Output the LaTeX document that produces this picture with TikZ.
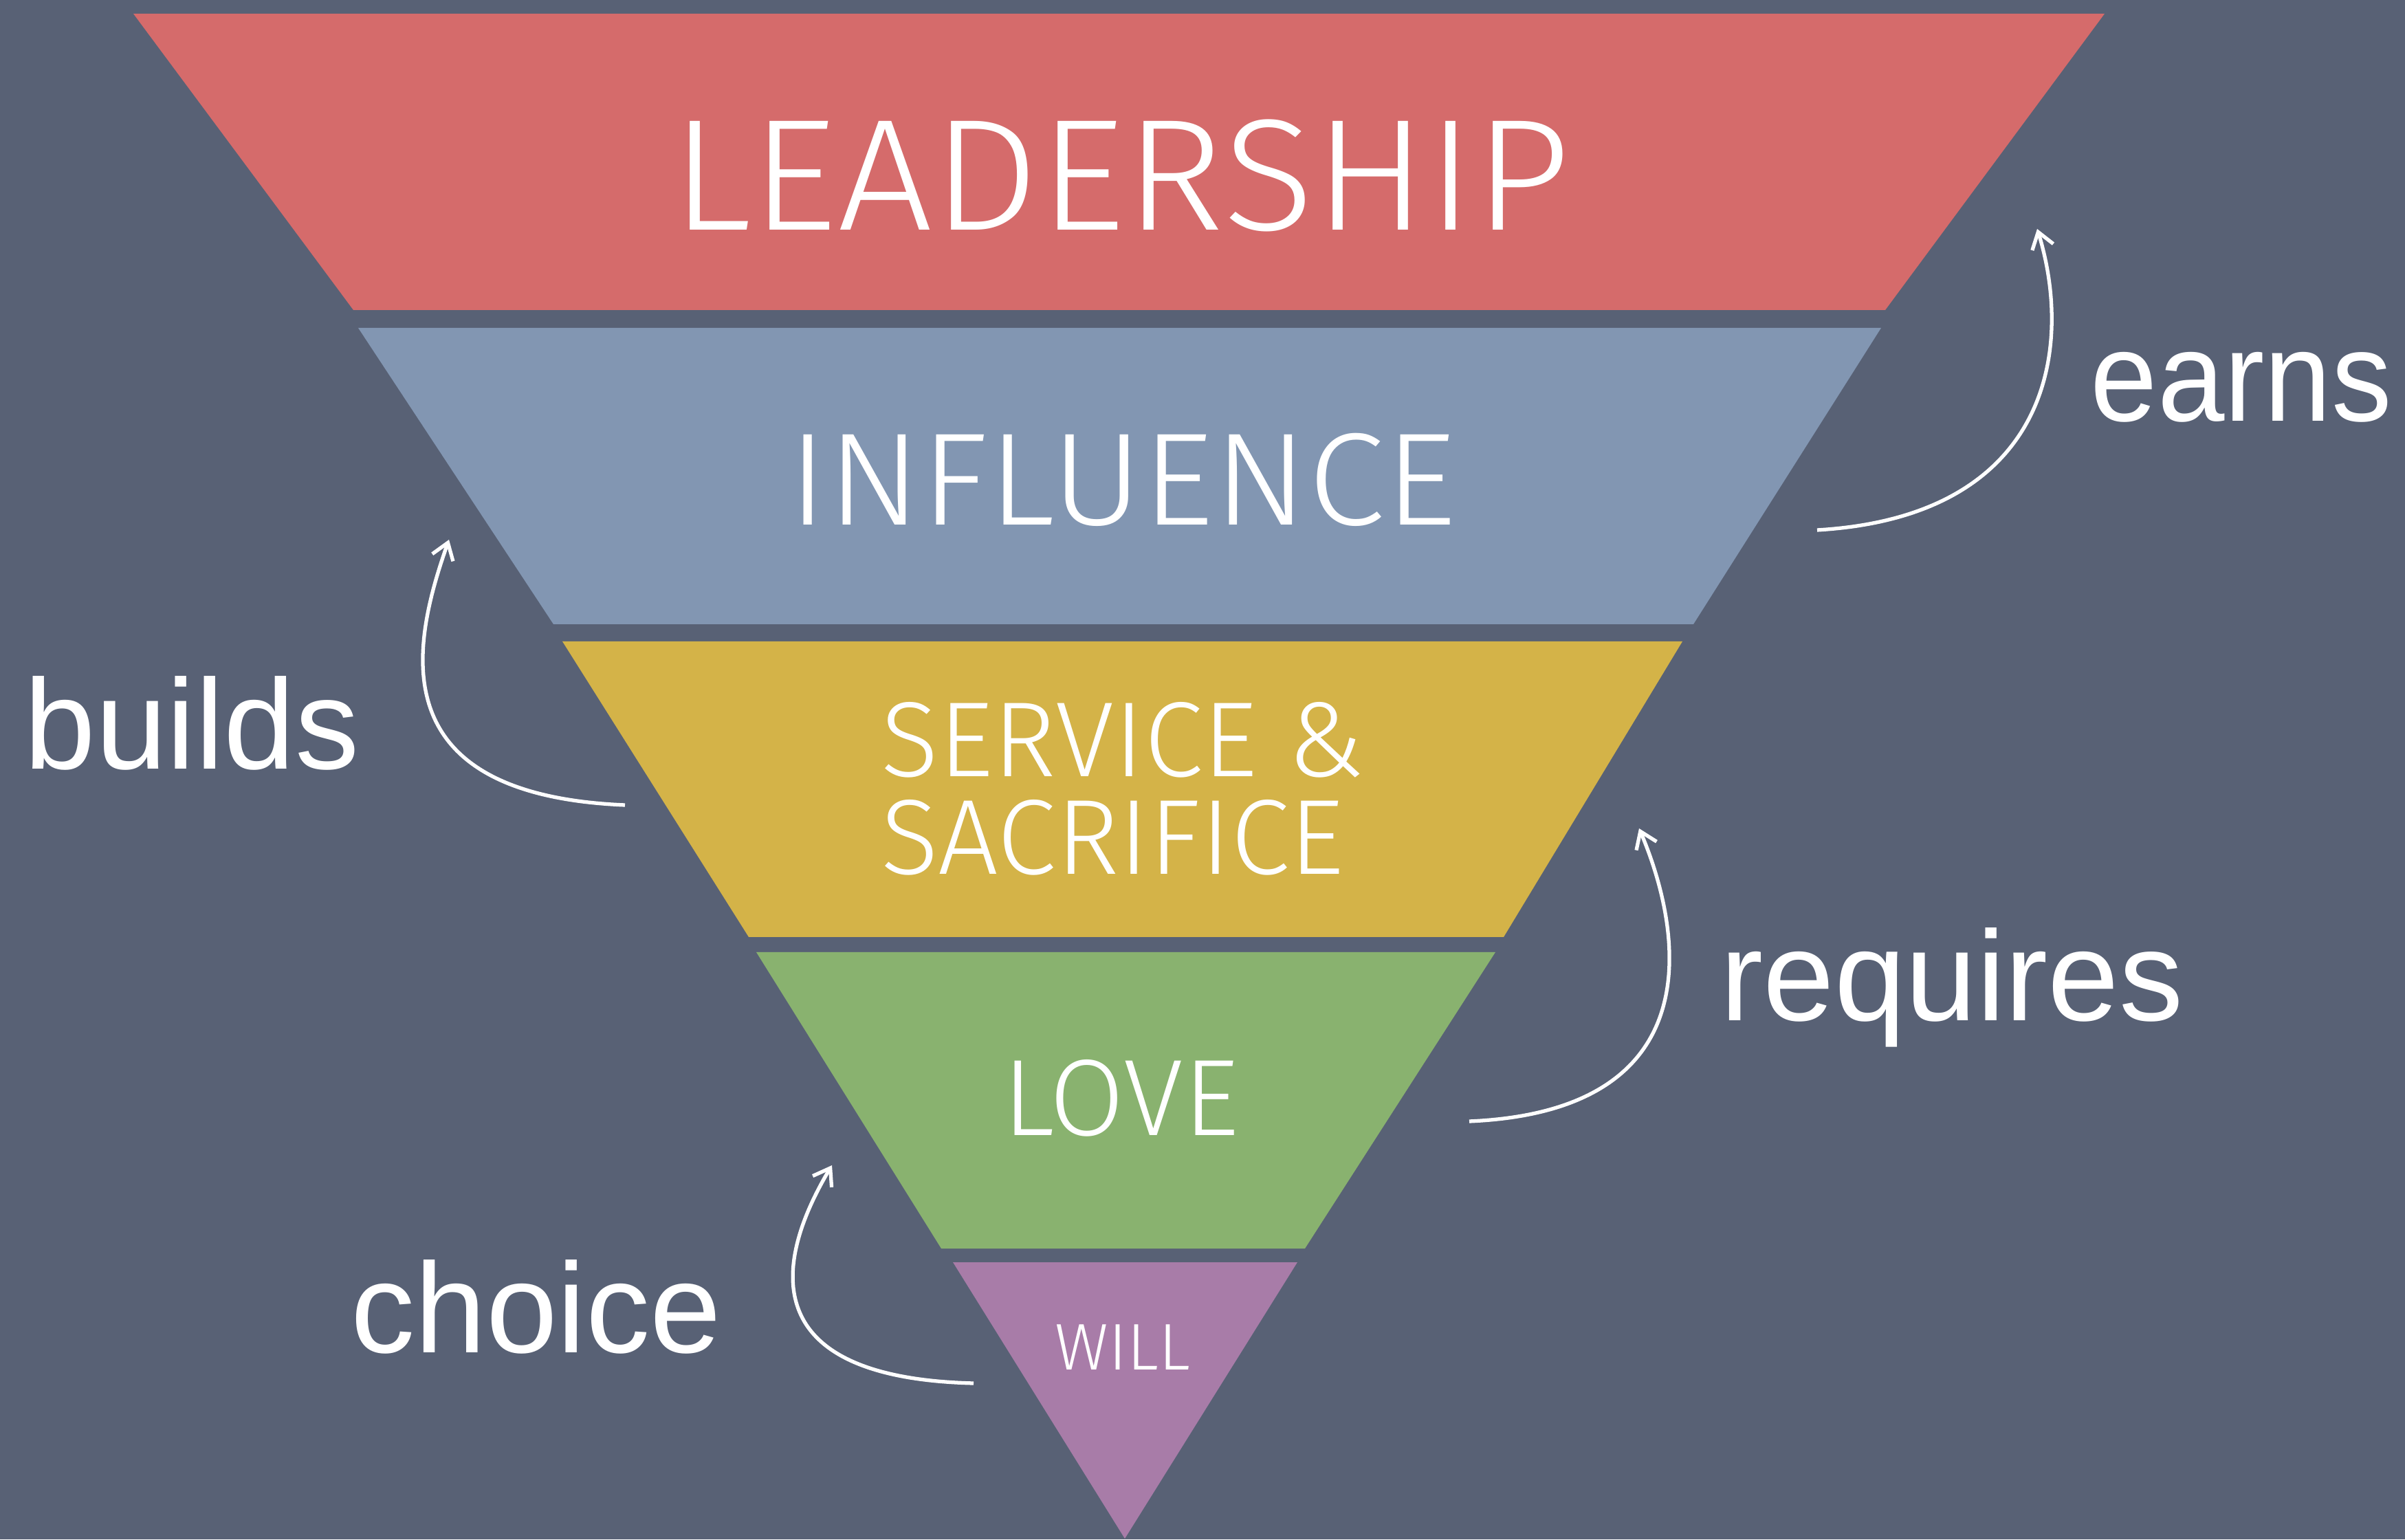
\documentclass[tikz,border=0pt]{standalone}
\usepackage{fontspec}
\setmainfont{Liberation Sans}
\newfontfamily\lightfont{Fira Sans Light}
\usepackage{tikz}
\usetikzlibrary{arrows.meta, positioning}
\definecolor{bgcolor}{RGB}{88,97,117}
\definecolor{leadcolor}{RGB}{213,107,107}
\definecolor{influcolor}{RGB}{130,150,178}
\definecolor{servcolor}{RGB}{212,179,72}
\definecolor{lovecolor}{RGB}{137,178,111}
\definecolor{willcolor}{RGB}{168,124,168}

\begin{document}
\begin{tikzpicture}[
    band label/.style={text=white, inner sep=0pt, anchor=base},
    side label/.style={text=white, inner sep=0pt, anchor=base west, font=\fontsize{53}{60}\selectfont},
    curve arrow/.style={draw=white, line width=1.5pt, -{Straight Barb[length=2.3mm, width=3.2mm]}}
]
    \fill[bgcolor] (0,0) rectangle (34.98,22.39);

    \fill[leadcolor] (1.94,22.19) -- (30.61,22.19) -- (27.42,17.88) -- (5.14,17.88) -- cycle;
    \fill[influcolor] (5.21,17.62) -- (27.36,17.62) -- (24.63,13.31) -- (8.05,13.31) -- cycle;
    \fill[servcolor] (8.18,13.06) -- (24.47,13.06) -- (21.87,8.76) -- (10.89,8.76) -- cycle;
    \fill[lovecolor] (11.00,8.54) -- (21.75,8.54) -- (18.98,4.23) -- (13.69,4.23) -- cycle;
    \fill[willcolor] (13.86,4.03) -- (18.87,4.03) -- (16.36,0.01) -- cycle;

    \node[band label, font=\lightfont\fontsize{65.7}{70}\selectfont] (leadership) at (16.30,19.04) {\scalebox{1.06}[1]{LEADERSHIP}};
    \node[band label, font=\lightfont\fontsize{54.5}{60}\selectfont] (influence) at (16.32,14.75) {\scalebox{1.06}[1]{INFLUENCE}};
    \node[text=white, inner sep=0pt, align=left, font=\lightfont\fontsize{44.2}{40.4}\selectfont] (service) at (16.33,10.92) {SERVICE \&\\SACRIFICE};
    \node[band label, font=\lightfont\fontsize{45}{50}\selectfont] (love) at (16.30,5.88) {LOVE};
    \node[band label, font=\lightfont\fontsize{27.3}{30}\selectfont] (will) at (16.33,2.47) {WILL};

    \node[side label] (builds) at (0.35,11.20) {builds};
    \node[side label] (earns) at (30.40,16.26) {\scalebox{0.94}[1]{earns}};
    \node[side label] (requires) at (25.02,7.55) {requires};
    \node[side label] (choice) at (5.10,2.72) {choice};

    \coordinate (earnsfrom) at (26.43,14.68);
    \coordinate (earnsto) at (29.63,19.06);
    \coordinate (buildsfrom) at (9.09,10.68);
    \coordinate (buildsto) at (6.53,14.54);
    \coordinate (requiresfrom) at (21.37,6.08);
    \coordinate (requiresto) at (23.84,10.34);
    \coordinate (choicefrom) at (14.16,2.27);
    \coordinate (choiceto) at (12.10,5.44);

    \draw[curve arrow] (earnsfrom) .. controls (29.83,14.88) and (30.16,17.34) .. (earnsto);
    \draw[curve arrow] (buildsfrom) .. controls (5.49,10.83) and (6.00,13.03) .. (buildsto);
    \draw[curve arrow] (requiresfrom) .. controls (24.87,6.23) and (24.50,8.78) .. (requiresto);
    \draw[curve arrow] (choicefrom) .. controls (10.90,2.35) and (11.30,4.10) .. (choiceto);
\end{tikzpicture}
\end{document}
